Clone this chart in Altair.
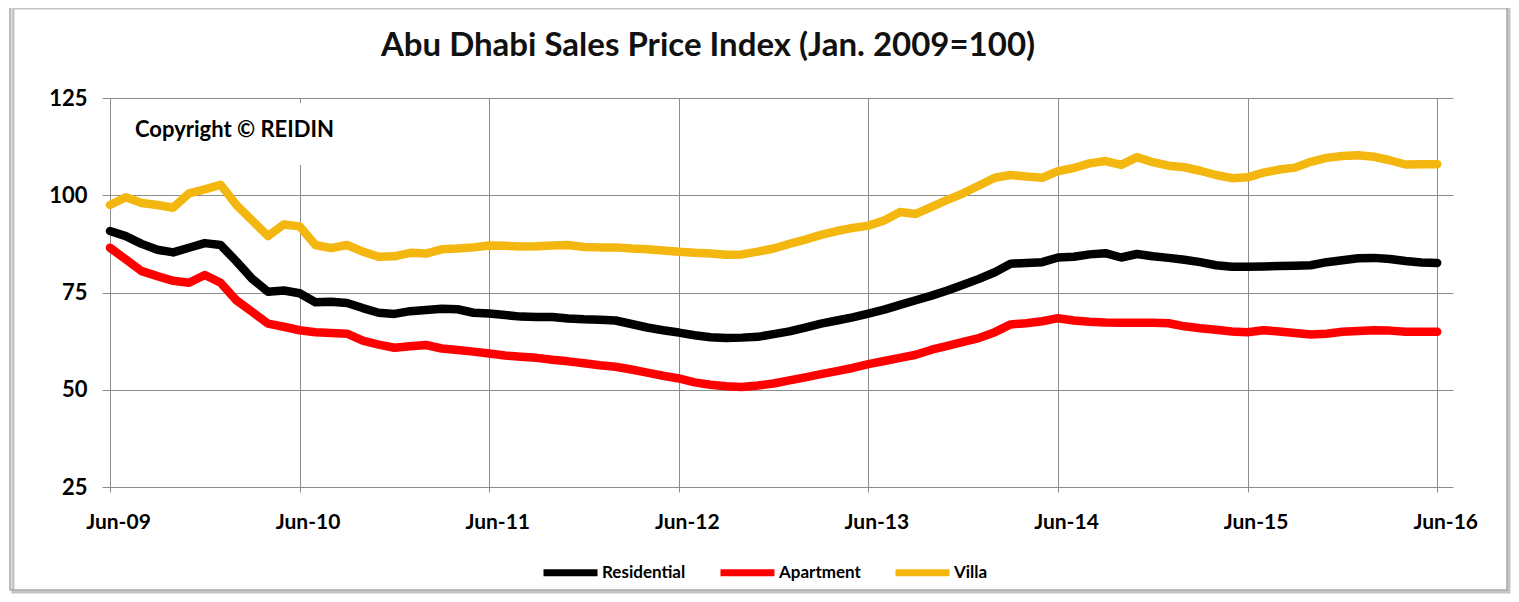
import altair as alt
import pandas as pd

months = list(pd.date_range("2009-06-01", "2016-06-01", freq="MS").strftime("%b-%y"))
tick_labels = ["Jun-09", "Jun-10", "Jun-11", "Jun-12", "Jun-13", "Jun-14", "Jun-15", "Jun-16"]

residential = [90.8, 89.5, 87.5, 86.0, 85.3, 86.5, 87.7, 87.2, 83.0, 78.5,
               75.2, 75.5, 74.8, 72.5, 72.6, 72.3, 71.0, 69.8, 69.5, 70.2,
               70.5, 70.8, 70.7, 69.8, 69.6, 69.2, 68.8, 68.7, 68.7, 68.3,
               68.1, 68.0, 67.8, 66.9, 66.0, 65.3, 64.7, 64.0, 63.5, 63.3,
               63.4, 63.6, 64.3, 65.0, 66.0, 67.0, 67.8, 68.6, 69.6, 70.6,
               71.8, 73.0, 74.2, 75.5, 77.0, 78.5, 80.2, 82.4, 82.6, 82.8,
               84.0, 84.2, 84.8, 85.1, 84.0, 84.9, 84.3, 83.9, 83.4, 82.8,
               82.0, 81.6, 81.6, 81.7, 81.8, 81.9, 82.0, 82.8, 83.3, 83.8,
               83.9, 83.6, 83.1, 82.7, 82.6]
apartment = [86.5, 83.5, 80.5, 79.2, 78.0, 77.5, 79.5, 77.5, 73.0, 70.0,
             67.0, 66.2, 65.3, 64.8, 64.6, 64.4, 62.6, 61.6, 60.8, 61.2,
             61.5, 60.6, 60.2, 59.8, 59.3, 58.8, 58.5, 58.2, 57.7, 57.3,
             56.8, 56.3, 55.9, 55.2, 54.4, 53.6, 52.9, 51.9, 51.3, 50.9,
             50.7, 51.1, 51.6, 52.4, 53.2, 54.0, 54.8, 55.6, 56.6, 57.4,
             58.2, 59.0, 60.3, 61.3, 62.3, 63.3, 64.8, 66.8, 67.1, 67.6,
             68.4, 67.8, 67.5, 67.3, 67.2, 67.2, 67.2, 67.1, 66.3, 65.8,
             65.4, 65.0, 64.8, 65.3, 65.0, 64.6, 64.2, 64.4, 64.9, 65.1,
             65.3, 65.2, 64.9, 64.9, 64.9]
villa = [97.5, 99.5, 98.0, 97.5, 96.8, 100.5, 101.5, 102.7, 97.5, 93.5,
         89.5, 92.5, 92.0, 87.2, 86.4, 87.2, 85.5, 84.2, 84.3, 85.2,
         85.0, 86.1, 86.3, 86.6, 87.1, 87.0, 86.8, 86.9, 87.1, 87.2,
         86.7, 86.6, 86.6, 86.3, 86.1, 85.8, 85.5, 85.2, 85.0, 84.7,
         84.8, 85.5, 86.3, 87.5, 88.6, 89.8, 90.8, 91.6, 92.2, 93.5,
         95.7, 95.2, 97.0, 98.8, 100.5, 102.5, 104.5, 105.2, 104.8, 104.5,
         106.2, 107.0, 108.2, 108.8, 107.8, 109.8, 108.5, 107.6, 107.2, 106.3,
         105.2, 104.4, 104.6, 105.8, 106.6, 107.1, 108.6, 109.6, 110.1, 110.3,
         109.9, 109.0, 107.9, 108.0, 108.0]

series_names = ["Residential", "Apartment", "Villa"]
series_colors = ["#000000", "#FF0000", "#F3B70F"]
title_text = "Abu Dhabi Sales Price Index (Jan. 2009=100)"
copyright_text = "Copyright © REIDIN"

rows = []
for name, vals in zip(series_names, [residential, apartment, villa]):
    for i, (mo, v) in enumerate(zip(months, vals)):
        rows.append({"Series": name, "Month": mo, "idx": i, "Value": v})
df = pd.DataFrame(rows)

label_expr = "[" + ",".join(f"'{t}'" for t in tick_labels) + "][round(datum.value/12)]"
FONT = "Lato"
GRID = "#8C8C8C"

lines = alt.Chart(df).mark_line(strokeWidth=8.5, strokeCap="round", strokeJoin="round").encode(
    x=alt.X("idx:Q",
            scale=alt.Scale(domain=[0, 85], nice=False, zero=False),
            axis=alt.Axis(values=list(range(0, 85, 12)), labelExpr=label_expr, title=None,
                          grid=True, gridColor=GRID, domain=False, tickSize=5, tickColor=GRID,
                          labelPadding=19, labelOffset=8, labelFlush=False, labelBound=False,
                          labelOverlap=False, labelFont=FONT, labelFontSize=21,
                          labelFontWeight="bold", labelColor="#000000")),
    y=alt.Y("Value:Q",
            scale=alt.Scale(domain=[25, 125], nice=False, zero=False),
            axis=alt.Axis(values=[25, 50, 75, 100, 125], title=None, grid=True, gridColor=GRID,
                          domain=False, tickSize=8, tickColor=GRID, labelPadding=15,
                          labelFont=FONT, labelFontSize=22, labelFontWeight="bold",
                          labelColor="#000000")),
    color=alt.Color("Series:N",
                    scale=alt.Scale(domain=series_names, range=series_colors),
                    legend=alt.Legend(orient="none", legendX=430, legendY=444,
                                      direction="horizontal", title=None,
                                      symbolType="stroke", symbolSize=2916,
                                      symbolStrokeWidth=7, labelFont=FONT,
                                      labelFontSize=17, labelFontWeight="bold",
                                      labelColor="#000000", labelOffset=1,
                                      columnPadding=20, padding=0)),
)

one = pd.DataFrame({"t": [copyright_text]})
box = alt.Chart(one).mark_rect(fill="white").encode(
    x=alt.value(4), x2=alt.value(215), y=alt.value(5), y2=alt.value(67))
copy = alt.Chart(one).mark_text(align="left", baseline="alphabetic", font=FONT,
                                fontSize=22, fontWeight="bold", color="#000000").encode(
    x=alt.value(25), y=alt.value(39), text="t:N")

tdf = pd.DataFrame({"t": [title_text]})
title = alt.Chart(tdf).mark_text(align="center", baseline="alphabetic", font=FONT,
                                 fontSize=33, fontWeight="bold", color="#111111").encode(
    x=alt.value(598), y=alt.value(-42), text="t:N")

bdf = pd.DataFrame({"a": [0]})
shadow = alt.Chart(bdf).mark_rect(fillOpacity=0, stroke="#C4C4C4", strokeWidth=3).encode(
    x=alt.value(-97), x2=alt.value(1399), y=alt.value(-90), y2=alt.value(494))
border = alt.Chart(bdf).mark_rect(fillOpacity=0, stroke="#A6A6A6", strokeWidth=1.5).encode(
    x=alt.value(-100), x2=alt.value(1397), y=alt.value(-93), y2=alt.value(492))

chart = alt.layer(shadow, border, box, lines, copy, title).properties(
    width=1343, height=389,
    autosize=alt.AutoSizeParams(type="none"),
    padding={"left": 102, "top": 90, "right": 58, "bottom": 107},
    background="white",
).configure_view(stroke=None)

chart.save("out.html", embed_options={"renderer": "svg", "actions": False})
